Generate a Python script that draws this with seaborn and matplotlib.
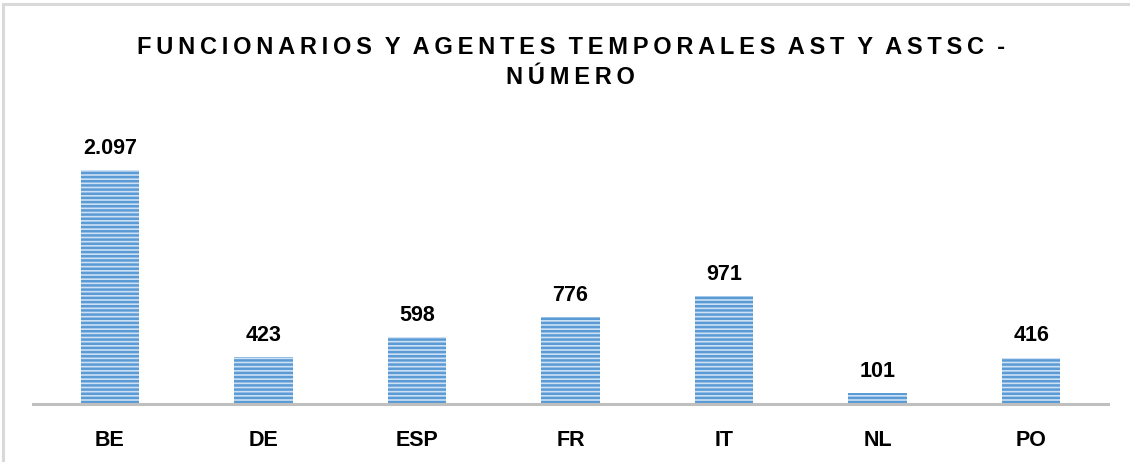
import matplotlib
matplotlib.use("Agg")
import matplotlib.pyplot as plt
import seaborn as sns
from matplotlib.patches import Rectangle

paises = ["BE", "DE", "ESP", "FR", "IT", "NL", "PO"]
valores = [2097, 423, 598, 776, 971, 101, 416]
etiquetas = ["2.097", "423", "598", "776", "971", "101", "416"]
titulo = ["FUNCIONARIOS Y AGENTES TEMPORALES AST Y ASTSC -", "NÚMERO"]

sns.set_style("white")
plt.rcParams['font.family'] = ['Liberation Sans Narrow', 'Liberation Sans', 'DejaVu Sans']
plt.rcParams['text.color'] = 'black'
plt.rcParams['xtick.color'] = 'black'
plt.rcParams['hatch.linewidth'] = 1.8

fig = plt.figure(figsize=(11.3, 4.62), dpi=100)
ax = fig.add_axes([0.0292, 0.1255, 0.9513, 0.5931])

sns.barplot(x=paises, y=valores, color="#cde0f4", saturation=1, width=0.38,
            linewidth=0, edgecolor="#5b9bd5", ax=ax)
for p in ax.patches:
    p.set_hatch("----")

# value labels above bars
for i, (v, t) in enumerate(zip(valores, etiquetas)):
    ax.annotate(t, (i, v), xytext=(0, 8), textcoords="offset points",
                ha="center", va="bottom", fontsize=15.5, fontweight="bold")

ax.set_ylim(0, 2455)
ax.set_xlim(-0.5, 6.5)
ax.set_yticks([])
for s in ["left", "top", "right"]:
    ax.spines[s].set_visible(False)
ax.spines["bottom"].set_color("#bfbfbf")
ax.spines["bottom"].set_linewidth(2.2)
ax.tick_params(axis="x", length=0, pad=19, labelsize=15.5)
for lab in ax.get_xticklabels():
    lab.set_fontweight("bold")

# spaced-out title
sp = "\u2009"
for k, line in enumerate(titulo):
    txt = sp.join(line).replace(sp + " " + sp, "  ")
    fig.text(0.505, 1 - (48 + 29 * k) / 462, txt, ha="center", va="center",
             fontsize=17, fontweight="bold", family=['Liberation Sans', 'DejaVu Sans'])

# light gray chart border
fig.patches.append(Rectangle((3 / 1130, -0.1), 1.2, 1.1 - 4 / 462, transform=fig.transFigure,
                             fill=False, edgecolor="#d9d9d9", linewidth=2.2))

fig.savefig("out.png", dpi=100)
